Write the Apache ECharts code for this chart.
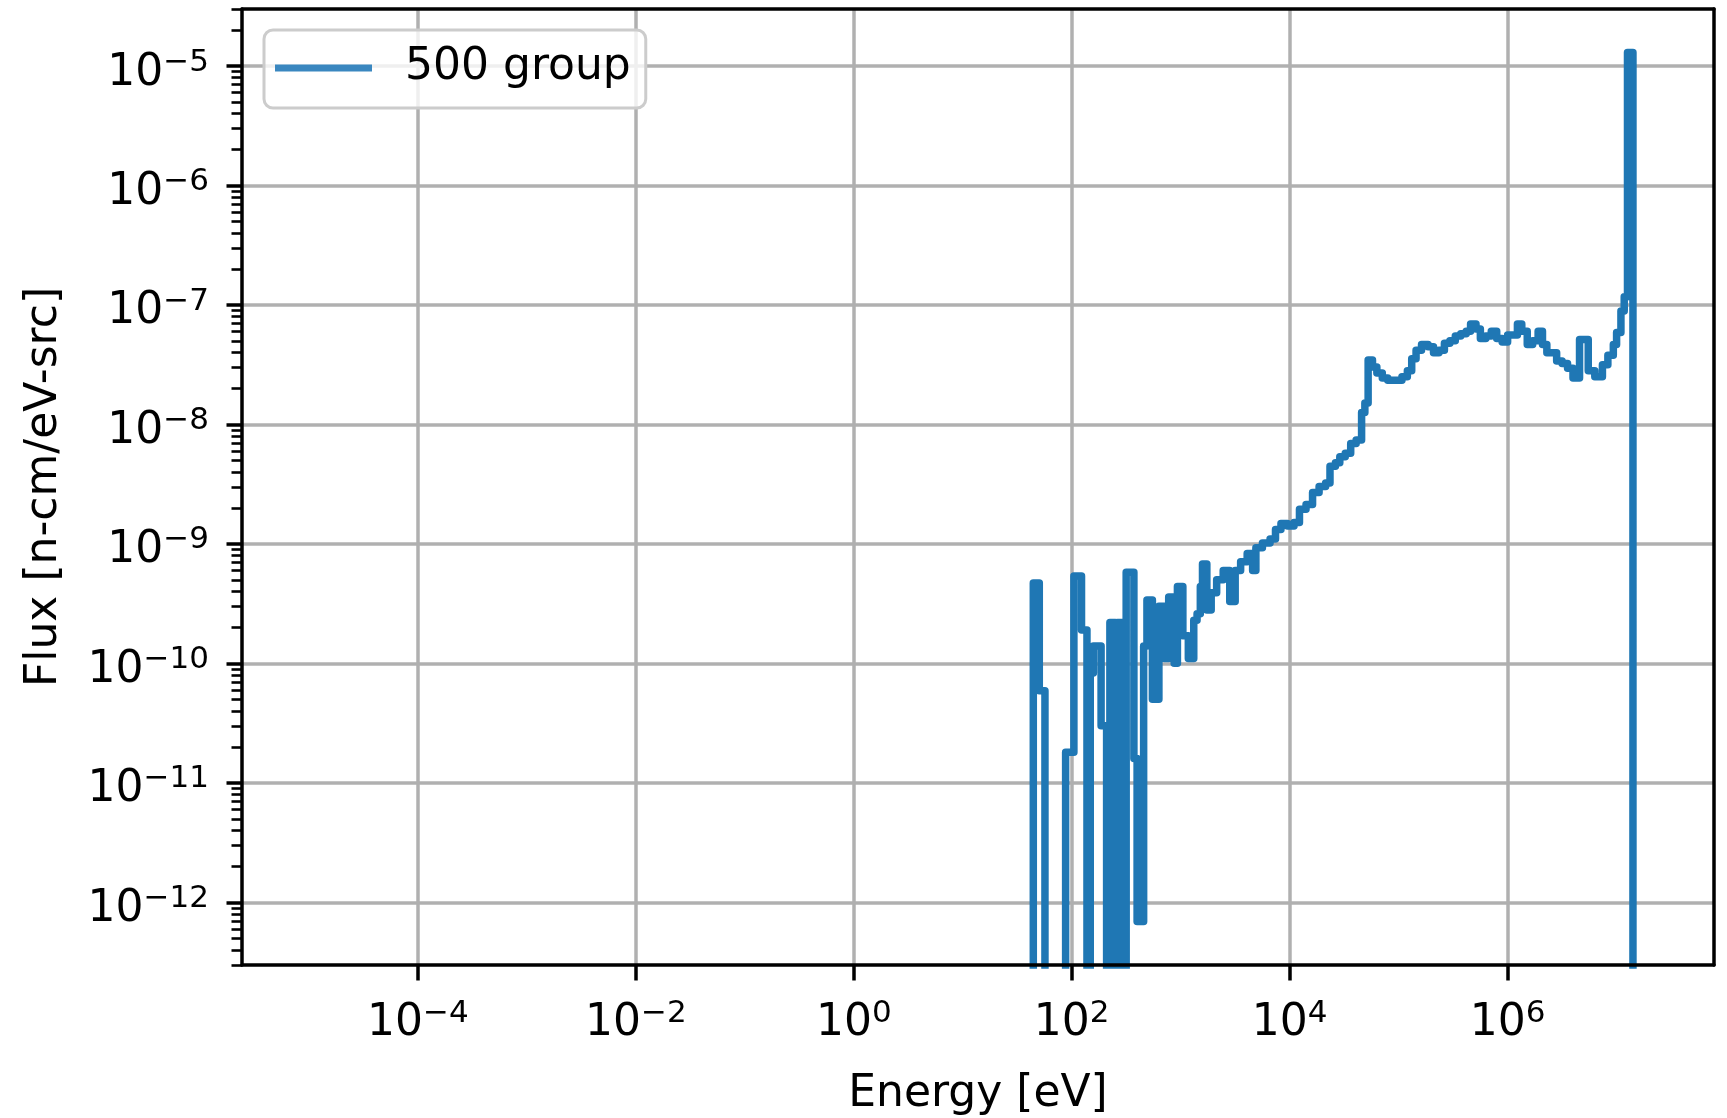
<!DOCTYPE html>
<html>
<head>
<meta charset="utf-8">
<script src="https://cdn.jsdelivr.net/npm/echarts@6/dist/echarts.min.js"></script>
<style>
html,body{margin:0;padding:0;background:#ffffff;}
#chart{width:1727px;height:1118px;}
</style>
</head>
<body>
<div id="chart"></div>
<script>
// ---- data (group lower edge energy [eV], flux [n-cm/eV-src]) ----
const energyEv = [
  1e-5,
  44.4, 50.4, 56.8,
  87.9, 104.7, 123, 138, 148, 158, 186, 209, 224, 251, 263, 295,
  316, 372, 398, 457, 490, 550, 631, 708, 776, 871, 933,
  1047, 1175, 1318, 1413, 1514, 1585, 1738, 1905, 2138, 2455,
  2818, 3162, 3548, 4074, 4571, 4898, 5623, 6607, 7413, 8318, 9550,
  1.096e4, 1.23e4, 1.413e4, 1.622e4, 1.862e4, 2.138e4, 2.344e4, 2.63e4, 2.884e4, 3.236e4,
  3.631e4, 4.074e4, 4.571e4, 4.898e4, 5.248e4, 5.754e4, 6.31e4, 7.079e4, 7.943e4, 9.333e4,
  1.072e5, 1.202e5, 1.318e5, 1.445e5, 1.622e5, 1.862e5, 2.089e5, 2.344e5, 2.63e5, 2.951e5,
  3.311e5, 3.715e5, 4.169e5, 4.571e5, 5.129e5, 5.623e5, 6.31e5, 7.079e5, 7.943e5, 8.913e5,
  1.0e6, 1.122e6, 1.23e6, 1.349e6, 1.514e6, 1.698e6, 1.905e6, 2.089e6, 2.291e6, 2.57e6,
  2.818e6, 3.162e6, 3.548e6, 3.981e6, 4.571e6, 5.495e6, 6.31e6, 7.413e6, 8.318e6, 9.333e6,
  1.0e7, 1.096e7, 1.175e7, 1.259e7, 1.413e7, 1.905e7
];
const fluxPerEv = [
  0,
  4.7e-10, 5.9e-11, 0,
  1.8e-11, 5.4e-10, 1.9e-10, 0, 8.3e-11, 1.4e-10, 3.0e-11, 0, 2.2e-10, 0, 2.2e-10, 0,
  5.8e-10, 1.6e-11, 6.9e-13, 1.4e-10, 3.4e-10, 5.0e-11, 3.0e-10, 1.1e-10, 3.6e-10, 1.0e-10, 4.4e-10,
  1.7e-10, 1.1e-10, 2.3e-10, 2.6e-10, 4.4e-10, 6.8e-10, 2.8e-10, 3.9e-10, 5.0e-10, 6.0e-10,
  3.3e-10, 6.0e-10, 7.1e-10, 8.3e-10, 6.0e-10, 9.3e-10, 1.02e-9, 1.1e-9, 1.32e-9, 1.48e-9, 1.41e-9,
  1.51e-9, 1.95e-9, 2.14e-9, 2.69e-9, 3.02e-9, 3.24e-9, 4.47e-9, 4.79e-9, 5.37e-9, 5.75e-9,
  6.92e-9, 7.41e-9, 1.26e-8, 1.51e-8, 3.47e-8, 3.02e-8, 2.69e-8, 2.45e-8, 2.34e-8, 2.34e-8,
  2.51e-8, 2.82e-8, 3.55e-8, 4.17e-8, 4.68e-8, 4.47e-8, 3.98e-8, 4.17e-8, 4.79e-8, 5.01e-8,
  5.5e-8, 5.75e-8, 6.03e-8, 6.92e-8, 6.31e-8, 5.25e-8, 5.5e-8, 6.03e-8, 5.25e-8, 4.9e-8,
  5.62e-8, 5.62e-8, 6.92e-8, 6.03e-8, 4.68e-8, 5.01e-8, 6.03e-8, 4.68e-8, 3.98e-8, 3.98e-8,
  3.39e-8, 3.24e-8, 2.95e-8, 2.45e-8, 5.13e-8, 2.82e-8, 2.51e-8, 3.16e-8, 3.8e-8, 4.68e-8,
  5.89e-8, 8.9e-8, 1.17e-7, 1.3e-5, 0, 0
];
const seriesName = '500 group';
const xTickExponents = [-4, -2, 0, 2, 4, 6];
const yTickExponents = [-12, -11, -10, -9, -8, -7, -6, -5];
const xAxisTitle = 'Energy [eV]';
const yAxisTitle = 'Flux [n-cm/eV-src]';

// ---- build ----
const FONT = "'DejaVu Sans', sans-serif";
const BLUE = '#1f77b4';
const ZERO_FLOOR_EXP = -40; // zero flux: drawn far below the visible range (log axis)

const lineData = energyEv.map((e, i) => [
  Math.log10(e),
  fluxPerEv[i] > 0 ? Math.log10(fluxPerEv[i]) : ZERO_FLOOR_EXP
]);

// matplotlib-like autoscale with 5% margins in log space
const xLogs = energyEv.map(Math.log10);
const xLo = Math.min(...xLogs), xHi = Math.max(...xLogs);
const xPad = 0.05 * (xHi - xLo);
const xMin = xLo - xPad, xMax = xHi + xPad;
const yLogs = fluxPerEv.filter(v => v > 0).map(Math.log10);
const yLo = Math.min(...yLogs), yHi = Math.max(...yLogs);
const yPad = 0.05 * (yHi - yLo);
const yMin = yLo - yPad, yMax = yHi + yPad;

const yMinorTicks = [];
for (let n = Math.floor(yMin); n <= Math.ceil(yMax); n++) {
  for (let k = 2; k <= 9; k++) {
    const v = n + Math.log10(k);
    if (v > yMin && v < yMax) yMinorTicks.push(v);
  }
}

function powLabel(v) {
  const n = Math.round(v);
  const e = n < 0 ? '\u2212' + (-n) : String(n);
  return '{b|10}{s|' + e + '}';
}
const richLabel = {
  b: { fontSize: 44, fontFamily: FONT, color: '#000', lineHeight: 52, verticalAlign: 'middle' },
  s: { fontSize: 31, fontFamily: FONT, color: '#000', lineHeight: 31, verticalAlign: 'top' }
};

const spineStyle = { color: '#000', width: 3.5 };
const hidden = { show: false };
function spineAxis(pos, isX) {
  return {
    type: 'value', position: pos, min: isX ? xMin : yMin, max: isX ? xMax : yMax,
    z: 10, silent: true,
    axisLine: { show: true, onZero: false, lineStyle: spineStyle },
    axisTick: hidden, axisLabel: hidden, splitLine: hidden, minorTick: hidden, minorSplitLine: hidden
  };
}

const option = {
  animation: false,
  backgroundColor: '#ffffff',
  textStyle: { fontFamily: FONT, color: '#000' },
  grid: { left: 242, top: 9, width: 1472, height: 956, containLabel: false, outerBoundsMode: 'none', show: false },
  legend: {
    show: true,
    data: [seriesName],
    left: 264, top: 30,
    orient: 'horizontal',
    padding: [13, 15, 15, 11],
    itemWidth: 97, itemHeight: 7, itemGap: 0,
    icon: 'rect',
    backgroundColor: 'rgba(255,255,255,0.8)',
    borderColor: '#cccccc', borderWidth: 3, borderRadius: 9,
    itemStyle: { color: '#3a87c0' },
    textStyle: { fontSize: 44, fontFamily: FONT, color: '#000', lineHeight: 50, padding: [0, 0, 0, 28] }
  },
  xAxis: [
    {
      type: 'value', position: 'bottom', min: xMin, max: xMax, splitNumber: 7, z: 0,
      name: xAxisTitle, nameLocation: 'middle', nameGap: 108,
      nameTextStyle: { fontSize: 44, fontFamily: FONT, color: '#000' },
      axisLine: { show: false, onZero: false },
      axisTick: { show: true, inside: false, length: 15.5, customValues: xTickExponents, lineStyle: { color: '#000', width: 3.5 } },
      axisLabel: { show: true, margin: 33, customValues: xTickExponents, formatter: powLabel, rich: richLabel },
      splitLine: { show: true, lineStyle: { color: '#b0b0b0', width: 3.5 } },
      minorTick: hidden, minorSplitLine: hidden
    },
    spineAxis('top', true),
    spineAxis('bottom', true)
  ],
  yAxis: [
    {
      type: 'value', position: 'left', min: yMin, max: yMax, splitNumber: 8, z: 0,
      name: yAxisTitle, nameLocation: 'middle', nameGap: 175,
      nameTextStyle: { fontSize: 44, fontFamily: FONT, color: '#000' },
      axisLine: { show: false, onZero: false },
      axisTick: { show: true, inside: false, length: 15.5, customValues: yTickExponents, lineStyle: { color: '#000', width: 3.5 } },
      axisLabel: { show: true, margin: 33, padding: [14, 0, 0, 0], customValues: yTickExponents, formatter: powLabel, rich: richLabel },
      splitLine: { show: true, lineStyle: { color: '#b0b0b0', width: 3.5 } },
      minorTick: hidden, minorSplitLine: hidden
    },
    {
      type: 'value', position: 'left', min: yMin, max: yMax, z: 1, silent: true,
      axisLine: { show: false, onZero: false },
      axisTick: { show: true, inside: false, length: 10.5, customValues: yMinorTicks, lineStyle: { color: '#000', width: 2.6 } },
      axisLabel: hidden, splitLine: hidden, minorTick: hidden, minorSplitLine: hidden
    },
    spineAxis('right', false),
    spineAxis('left', false)
  ],
  series: [
    {
      name: seriesName,
      type: 'line',
      xAxisIndex: 0, yAxisIndex: 0,
      data: lineData,
      step: 'end',
      symbol: 'none', showSymbol: false,
      clip: true,
      z: 2,
      itemStyle: { color: BLUE },
      lineStyle: { color: BLUE, width: 7.5, cap: 'square', join: 'round' },
      emphasis: { disabled: true }
    }
  ]
};

const chart = echarts.init(document.getElementById('chart'), null, { renderer: 'canvas' });
chart.setOption(option);
</script>
</body>
</html>
